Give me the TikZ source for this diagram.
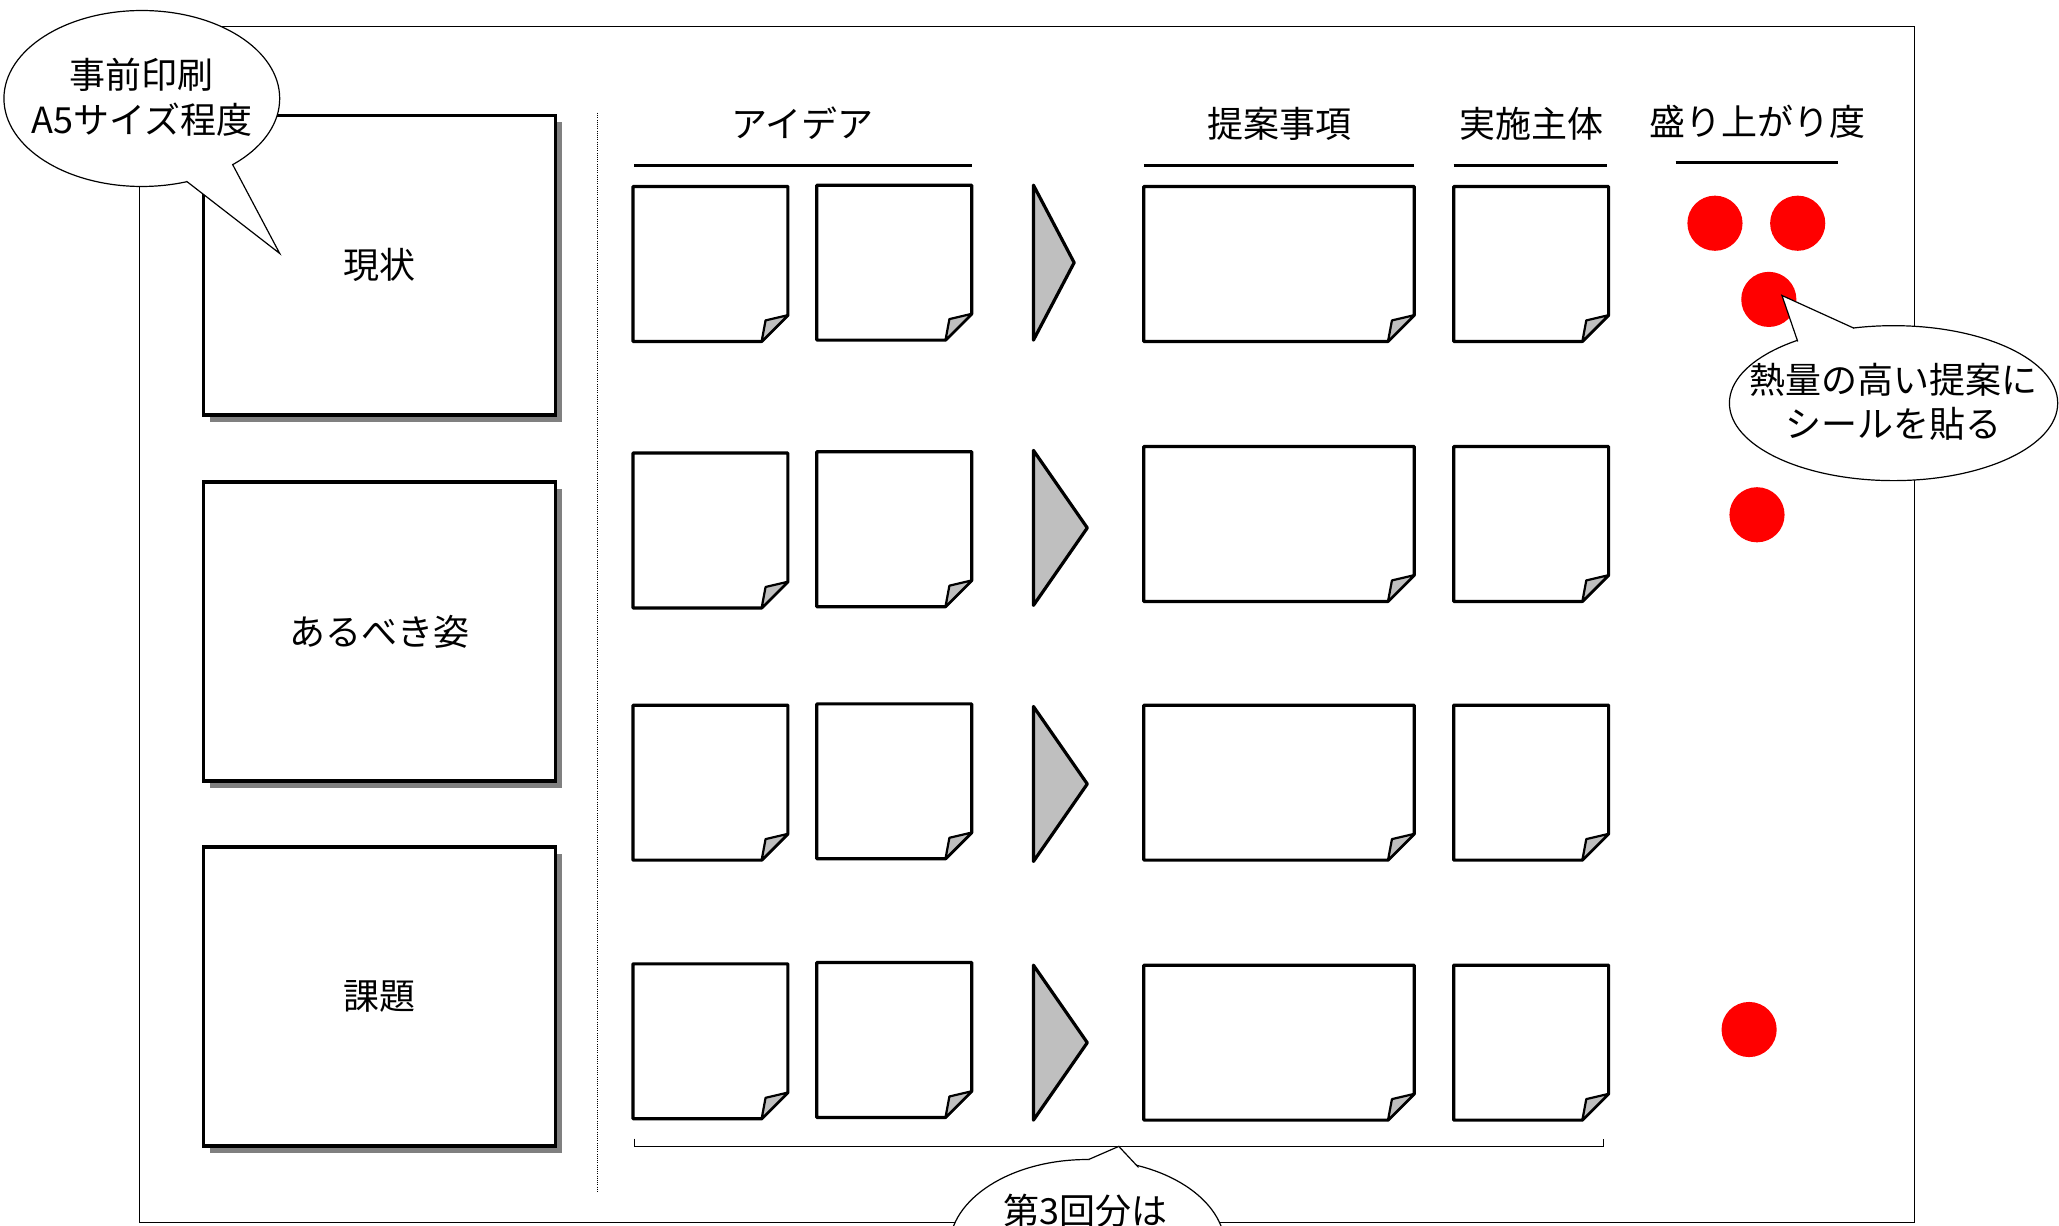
\documentclass[tikz,border=0pt]{standalone}
\usepackage{fontspec}
\setmainfont{Noto Sans CJK JP}
\begin{document}
\begin{tikzpicture}[x=0.65655pt,y=-0.65655pt,
  frameline/.style={line width=0.55pt},
  boxshadow/.style={fill=black!50,draw=none},
  mainbox/.style={draw,line width=1.9pt,fill=white,minimum width=176pt,minimum height=149.7pt,inner sep=0pt,font=\fontsize{18}{22}\selectfont},
  notebody/.style={draw,line width=1.6pt,fill=white,line join=round},
  notefold/.style={draw,line width=1.1pt,fill=black!25,line join=round},
  arrowtri/.style={draw,line width=1.6pt,fill=black!25,line join=round},
  hdr/.style={font=\fontsize{18}{22}\selectfont,inner sep=0pt},
  hdrline/.style={line width=1.5pt},
  dot/.style={fill=red,draw=none},
  callout/.style={draw,fill=white,line width=0.6pt},
  callfill/.style={fill=white,draw=none},
  callside/.style={line width=0.6pt,line join=miter},
  calltext/.style={font=\fontsize{18}{22.3}\selectfont,align=center,inner sep=0pt}
]
\newcommand\stnote[4]{%
  \draw[notebody] (#1,#2) -- (#3,#2) -- (#3,#4-20) -- (#3-20,#4) -- (#1,#4) -- cycle;
  \draw[notefold] (#3-20,#4) -- (#3-17,#4-16) -- (#3,#4-20) -- cycle;}
\useasboundingbox (0,0) rectangle (1568,933);
\clip (0,0) rectangle (1568,933);
% outer frame
\draw[frameline] (106,20) rectangle (1458,931);
% dotted separator
\draw[line width=0.5pt,dash pattern=on 0.5pt off 0.6pt] (455,86) -- (455,908);
% left boxes
\draw[boxshadow] (160,93) rectangle (428,321);
\node[mainbox] (genjo) at (289,202) {現状};
\draw[boxshadow] (160,372) rectangle (428,600);
\node[mainbox] (arubeki) at (289,481) {あるべき姿};
\draw[boxshadow] (160,650) rectangle (428,878);
\node[mainbox] (kadai) at (289,759) {課題};
% headers
\node[hdr] (h1) at (611,94) {アイデア};
\node[hdr] (h2) at (974,94) {提案事項};
\node[hdr] (h3) at (1166,94) {実施主体};
\node[hdr] (h4) at (1338,93) {盛り上がり度};
\draw[hdrline] (483,126) -- (740,126);
\draw[hdrline] (871,126) -- (1077,126);
\draw[hdrline] (1107,126) -- (1224,126);
\draw[hdrline] (1276,124) -- (1400,124);
% row 1
\stnote{482}{142}{600}{260}
\stnote{622}{141}{740}{259}
\draw[arrowtri] (787,141) -- (818,200) -- (787,259) -- cycle;
\stnote{871}{142}{1077}{260}
\stnote{1107}{142}{1225}{260}
% row 2
\stnote{482}{345}{600}{463}
\stnote{622}{344}{740}{462}
\draw[arrowtri] (787,343) -- (828,402) -- (787,461) -- cycle;
\stnote{871}{340}{1077}{458}
\stnote{1107}{340}{1225}{458}
% row 3
\stnote{482}{537}{600}{655}
\stnote{622}{536}{740}{654}
\draw[arrowtri] (787,538) -- (828,597) -- (787,656) -- cycle;
\stnote{871}{537}{1077}{655}
\stnote{1107}{537}{1225}{655}
% row 4
\stnote{482}{734}{600}{852}
\stnote{622}{733}{740}{851}
\draw[arrowtri] (787,735) -- (828,794) -- (787,853) -- cycle;
\stnote{871}{735}{1077}{853}
\stnote{1107}{735}{1225}{853}
% red stickers
\fill[dot] (1306,170) circle (21);
\fill[dot] (1369,170) circle (21);
\fill[dot] (1347,228) circle (21);
\fill[dot] (1338,392) circle (21);
\fill[dot] (1332,784) circle (21);
% bracket
\coordinate (brL) at (483,867);
\coordinate (brR) at (1221,867);
\coordinate (brM) at (852,873);
\draw[line width=0.75pt] (brL) -- (483,873) -- (1221,873) -- (brR);
% callout 1
\draw[callout] (108,75) ellipse [x radius=105,y radius=67];
\fill[callfill] (142,138) -- (213,193) -- (177,125) -- (160,110) -- cycle;
\coordinate (c1tip) at (213,193);
\draw[callside] (142,138) -- (c1tip) -- (177,125);
\node[calltext] (c1) at (108,74) {事前印刷\\A5サイズ程度};
% callout 2
\draw[callout] (1442,307) ellipse [x radius=125,y radius=59];
\fill[callfill] (1369,260) -- (1357,225) -- (1412,250) -- (1400,280) -- cycle;
\coordinate (c2tip) at (1357,225);
\draw[callside] (1369,260) -- (c2tip) -- (1412,250);
\node[calltext] (c2) at (1442,306) {熱量の高い提案に\\シールを貼る};
% callout 3
\draw[callout] (828,950) ellipse [x radius=105,y radius=67];
\fill[callfill] (829,883) -- (brM) -- (867,889) -- (850,905) -- cycle;
\draw[callside] (829,883) -- (brM) -- (867,889);
\node[calltext,anchor=center] (c3) at (827,922) {第3回分は};
\end{tikzpicture}
\end{document}
